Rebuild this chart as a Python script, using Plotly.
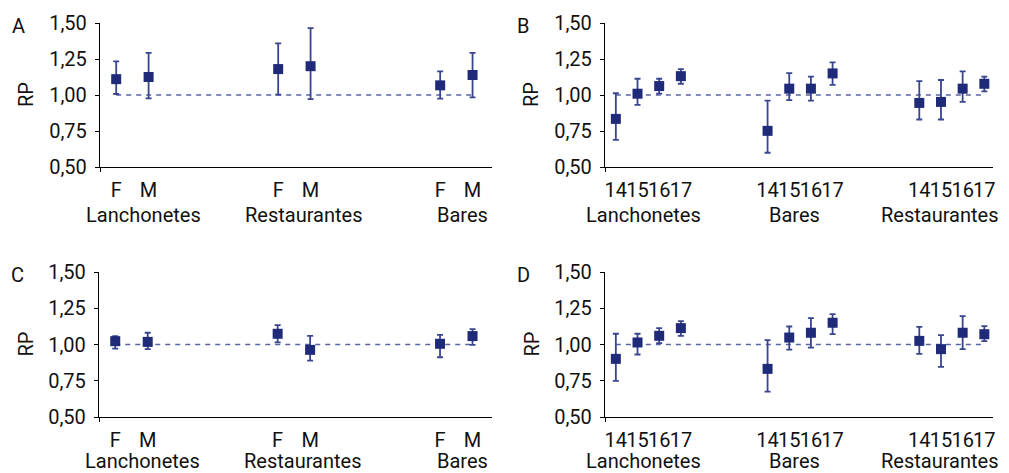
import plotly.graph_objects as go

W, H = 1009, 473
OFF = 8  # page body margin offset of the rendered figure

# ---------------- data ----------------
groups_AC = ["Lanchonetes", "Restaurantes", "Bares"]
sex_labels = ["F", "M"]
groups_BD = ["Lanchonetes", "Bares", "Restaurantes"]
age_labels = ["14", "15", "16", "17"]

A_rp = [1.11, 1.125, 1.18, 1.20, 1.067, 1.139]
A_lo = [1.007, 0.977, 1.002, 0.972, 0.975, 0.984]
A_hi = [1.234, 1.292, 1.359, 1.465, 1.164, 1.292]

B_rp = [0.834, 1.009, 1.062, 1.131, 0.751, 1.044, 1.044, 1.150, 0.945, 0.952, 1.044, 1.078]
B_lo = [0.689, 0.931, 1.009, 1.078, 0.599, 0.965, 0.961, 1.071, 0.830, 0.830, 0.952, 1.025]
B_hi = [1.012, 1.113, 1.113, 1.180, 0.961, 1.152, 1.127, 1.226, 1.097, 1.104, 1.164, 1.127]

C_rp = [1.023, 1.018, 1.074, 0.963, 1.005, 1.058]
C_lo = [0.972, 0.968, 1.014, 0.889, 0.912, 0.998]
C_hi = [1.058, 1.081, 1.134, 1.060, 1.067, 1.106]

D_rp = [0.901, 1.014, 1.060, 1.113, 0.832, 1.048, 1.081, 1.150, 1.025, 0.968, 1.081, 1.071]
D_lo = [0.749, 0.931, 1.009, 1.060, 0.675, 0.965, 0.979, 1.071, 0.935, 0.846, 0.968, 1.023]
D_hi = [1.074, 1.074, 1.113, 1.161, 1.030, 1.124, 1.182, 1.210, 1.122, 1.065, 1.196, 1.127]

y_ticks = [0.50, 0.75, 1.00, 1.25, 1.50]
reference_value = 1.0

# ---------------- style ----------------
FONT = "Roboto"
MARKER_C = "#1f2a78"
ERR_C = "#3a4590"
DASH_C = "#5a63a3"

panels = [
    # letter, rp, lo, hi, groups, subs, gap, x-domain px, y-domain px, xrange, label shifts, label dy
    ("A", A_rp, A_lo, A_hi, groups_AC, sex_labels, 5, (100, 492), (23, 167), [-0.5, 11.6], [11, 9, 6], 48),
    ("B", B_rp, B_lo, B_hi, groups_BD, age_labels, 7, (605, 993), (23, 167), [-0.5, 17.4], [-5, -6, -12], 48),
    ("C", C_rp, C_lo, C_hi, groups_AC, sex_labels, 5, (99, 492), (272, 417), [-0.5, 11.6], [11, 9, 6], 44),
    ("D", D_rp, D_lo, D_hi, groups_BD, age_labels, 7, (605, 993), (272, 417), [-0.5, 17.4], [-5, -6, -12], 44),
]

fig = go.Figure()
annotations = []
layout = {}

for i, (letter, rp, lo, hi, groups, subs, gap, xd, yd, xr, shifts, ldy) in enumerate(panels):
    n = i + 1
    xa = "x" if n == 1 else f"x{n}"
    ya = "y" if n == 1 else f"y{n}"
    xs = [g * gap + s for g in range(len(groups)) for s in range(len(subs))]
    ticktext = [s for _ in groups for s in subs]

    # reference dashed line
    fig.add_trace(go.Scatter(
        x=[xs[0], xs[-1]], y=[reference_value, reference_value], mode="lines",
        line=dict(color=DASH_C, width=1.6, dash="5px,5px"),
        xaxis=xa, yaxis=ya, showlegend=False, hoverinfo="skip"))

    fig.add_trace(go.Scatter(
        x=xs, y=rp, mode="markers",
        marker=dict(symbol="square", size=10, color=MARKER_C),
        error_y=dict(type="data", symmetric=False,
                     array=[h - v for h, v in zip(hi, rp)],
                     arrayminus=[v - l for v, l in zip(rp, lo)],
                     color=ERR_C, thickness=1.8, width=3),
        xaxis=xa, yaxis=ya, showlegend=False))

    px0, px1 = xd[0] - OFF, xd[1] - OFF
    py0, py1 = yd[0] - OFF, yd[1] - OFF
    x0, x1 = px0 / W, px1 / W
    y0, y1 = 1 - py1 / H, 1 - py0 / H
    key = "" if n == 1 else str(n)
    layout[f"xaxis{key}"] = dict(
        domain=[x0, x1], range=xr, anchor=ya, showgrid=False, zeroline=False,
        automargin=False,
        showline=True, linecolor="black", linewidth=1.3,
        tickmode="array", tickvals=xs, ticktext=ticktext, tickangle=0,
        ticks="", ticklabelstandoff=5,
        tickfont=dict(family=FONT, size=20, color="#111"),
        minor=dict(tickmode="array", tickvals=[xr[0]], ticks="outside", ticklen=4,
                   tickcolor="black", tickwidth=1.3))
    layout[f"yaxis{key}"] = dict(
        domain=[y0, y1], range=[0.5, 1.5], anchor=xa, showgrid=False, zeroline=False,
        automargin=False,
        showline=True, linecolor="black", linewidth=1.3,
        tickmode="array", tickvals=y_ticks, tickformat=".2f",
        ticks="outside", ticklen=4, tickcolor="black", tickwidth=1.3,
        ticklabelstandoff=4,
        tickfont=dict(family=FONT, size=20, color="#111"))

    # group labels
    for g, name in enumerate(groups):
        cx = g * gap + (len(subs) - 1) / 2
        annotations.append(dict(
            text=name, x=cx, xref=xa, y=1 - (py1 + ldy) / H, yref="paper",
            xanchor="center", yanchor="middle", showarrow=False, xshift=shifts[g],
            font=dict(family=FONT, size=20, color="#111")))

    # panel letter
    annotations.append(dict(
        text=letter, x=(px0 - 82) / W, y=1 - (py0 + 3) / H, xref="paper", yref="paper",
        xanchor="center", yanchor="middle", showarrow=False,
        font=dict(family=FONT, size=20, color="#111")))
    # y title
    annotations.append(dict(
        text="RP", x=(px0 - 74) / W, y=1 - ((py0 + py1) / 2) / H,
        xref="paper", yref="paper", textangle=-90,
        xanchor="center", yanchor="middle", showarrow=False,
        font=dict(family=FONT, size=20, color="#111")))

fig.update_layout(
    width=W, height=H, margin=dict(l=0, r=0, t=0, b=0, autoexpand=False),
    paper_bgcolor="white", plot_bgcolor="white",
    separators=",.", annotations=annotations, **layout)

fig.write_html("out.html")
